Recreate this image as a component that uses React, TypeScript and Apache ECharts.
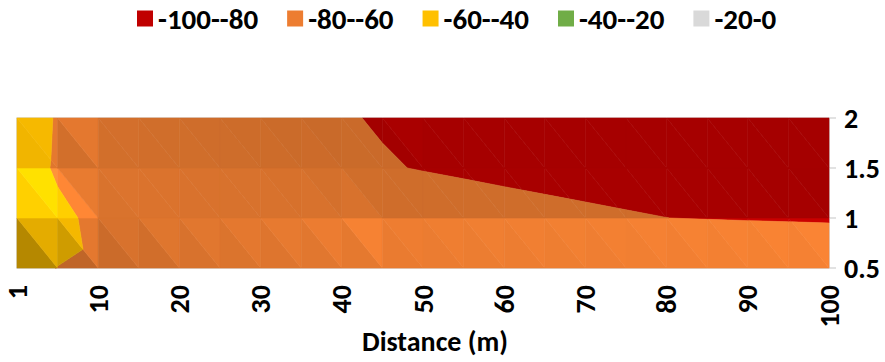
import React, { useEffect, useRef } from "react";
import * as echarts from "echarts";

// Distance categories (x) and height categories (y)
const distances = ["1", "5", "10", "15", "20", "25", "30", "35", "40", "45", "50", "55", "60", "65", "70", "75", "80", "85", "90", "95", "100"];
const heights = ["0.5", "1", "1.5", "2"];

// Surface values per height row
const row05 = [-57, -60.2, -63, -62.5, -62, -62, -62, -62, -62, -62, -62, -62, -62, -62, -62, -62, -62, -62, -62, -62, -62];
const row1 = [-41.5, -55, -65, -67, -69, -70.5, -71.8, -73, -74.5, -76.7, -77.19, -77.65, -78.12, -78.58, -79.04, -79.51, -79.97, -80.5, -81, -81.5, -82];
const row15 = [-47.2, -63, -70, -72.5, -74.5, -76, -77.2, -78.2, -79, -79.7, -80.19, -80.65, -81.12, -81.58, -82.04, -82.51, -82.97, -83.2, -83.4, -83.5, -83.5];
const row2 = [-45, -62, -72, -74.8, -76.6, -77.9, -78.8, -79.4, -79.7, -80.3, -82.2, -82.6, -83.1, -83.6, -84, -84.5, -85, -85.2, -85.4, -85.5, -85.5];

const bandLabels = ["-100--80", "-80--60", "-60--40", "-40--20", "-20-0"];
const bandLows = [-100, -80, -60, -40, -20];
const bandHighs = [-80, -60, -40, -20, 0];
const bandColors = ["#C00000", "#ED7D31", "#FFC000", "#70AD47", "#D9D9D9"];

const xTitle = "Distance (m)";

const rows = [row05, row1, row15, row2];

type P = [number, number, number];

function clip(poly: P[], level: number, keepAbove: boolean): P[] {
  const out: P[] = [];
  const n = poly.length;
  for (let k = 0; k < n; k++) {
    const a = poly[k];
    const b = poly[(k + 1) % n];
    const ina = keepAbove ? a[2] >= level : a[2] <= level;
    const inb = keepAbove ? b[2] >= level : b[2] <= level;
    if (ina) out.push(a);
    if (ina !== inb) {
      const t = (level - a[2]) / (b[2] - a[2]);
      out.push([a[0] + t * (b[0] - a[0]), a[1] + t * (b[1] - a[1]), level]);
    }
  }
  return out;
}

function triangleVerts(i: number, j: number, t: number): P[] {
  const TL: P = [i, j + 1, rows[j + 1][i]];
  const TR: P = [i + 1, j + 1, rows[j + 1][i + 1]];
  const BL: P = [i, j, rows[j][i]];
  const BR: P = [i + 1, j, rows[j][i + 1]];
  return t === 0 ? [TL, BL, BR] : [TL, TR, BR];
}

function shadeFactor(i: number, j: number, t: number): number {
  const TL = rows[j + 1][i];
  const TR = rows[j + 1][i + 1];
  const BL = rows[j][i];
  const BR = rows[j][i + 1];
  let A: number, B: number;
  if (t === 0) {
    A = BL - TL;
    B = BL - BR;
  } else {
    A = BR - TR;
    B = TL - TR;
  }
  const f = 0.84 + 0.01 * A + 0.008 * B + 0.001 * Math.max(0, A) * Math.max(0, B);
  return Math.max(0.5, Math.min(1.3, f));
}

function shade(hex: string, f: number): string {
  const r = parseInt(hex.slice(1, 3), 16);
  const g = parseInt(hex.slice(3, 5), 16);
  const b = parseInt(hex.slice(5, 7), 16);
  const c = (v: number) => Math.max(0, Math.min(255, Math.round(v * f)));
  return `rgb(${c(r)},${c(g)},${c(b)})`;
}

const triData: number[][] = [];
for (let j = 0; j < heights.length - 1; j++) {
  for (let i = 0; i < distances.length - 1; i++) {
    triData.push([i, j, 0]);
    triData.push([i, j, 1]);
  }
}

const FONT = "Carlito, Lato, 'Liberation Sans', sans-serif";
const GRAY = "#D9D9D9";

export default function App() {
  const ref = useRef<HTMLDivElement>(null);
  useEffect(() => {
    if (!ref.current) return;
    const chart = echarts.init(ref.current, undefined, { renderer: "svg" });
    const series = bandLabels.map((label, b) => ({
      type: "custom",
      name: label,
      coordinateSystem: "cartesian2d",
      data: triData,
      encode: { x: 0, y: 1 },
      itemStyle: { color: bandColors[b] },
      silent: true,
      clip: false,
      renderItem: (params: any, api: any) => {
        const i = api.value(0);
        const j = api.value(1);
        const t = api.value(2);
        let poly = triangleVerts(i, j, t);
        poly = clip(poly, bandLows[b], true);
        if (poly.length >= 3) poly = clip(poly, bandHighs[b], false);
        if (poly.length < 3) return null;
        // category axes are linear in the index: map fractional index positions through the axis scale
        const c00 = api.coord([0, 0]);
        const c10 = api.coord([1, 0]);
        const c01 = api.coord([0, 1]);
        const pts = poly.map((p) => [
          c00[0] + p[0] * (c10[0] - c00[0]) + p[1] * (c01[0] - c00[0]),
          c00[1] + p[0] * (c10[1] - c00[1]) + p[1] * (c01[1] - c00[1]),
        ]);
        const col = shade(bandColors[b], shadeFactor(i, j, t));
        return {
          type: "polygon",
          shape: { points: pts },
          style: { fill: col, stroke: col, lineWidth: 0.6 },
        };
      },
    }));
    chart.setOption({
      animation: false,
      legend: {
        data: bandLabels,
        top: -1,
        left: 132,
        icon: "rect",
        itemWidth: 16,
        itemHeight: 16,
        itemGap: 29,
        textStyle: { fontFamily: FONT, fontSize: 29, fontWeight: "bold", color: "#000" },
      },
      grid: {
        left: 17,
        right: 56,
        top: 118,
        bottom: 94,
        show: true,
        borderColor: GRAY,
        borderWidth: 1.5,
      },
      graphic: [
        {
          type: "text",
          x: 435,
          y: 341,
          style: {
            text: xTitle,
            fontFamily: FONT,
            fontSize: 28,
            fontWeight: "bold",
            fill: "#000",
            align: "center",
            verticalAlign: "middle",
          },
        },
      ],
      xAxis: {
        type: "category",
        data: distances,
        boundaryGap: false,
        axisLine: { lineStyle: { color: GRAY, width: 1.5 } },
        axisTick: { interval: 0, length: 7, lineStyle: { color: GRAY, width: 1.5 } },
        axisLabel: {
          interval: (idx: number) => idx % 2 === 0,
          rotate: 90,
          margin: 17,
          fontFamily: FONT,
          fontSize: 28,
          fontWeight: "bold",
          color: "#000",
        },
        splitLine: { show: false },
      },
      yAxis: {
        type: "category",
        data: heights,
        boundaryGap: false,
        position: "right",
        axisLine: { show: true, lineStyle: { color: GRAY, width: 1.5 } },
        axisTick: { show: true, interval: 0, length: 7, lineStyle: { color: GRAY, width: 1.5 } },
        axisLabel: { margin: 15, fontFamily: FONT, fontSize: 28, fontWeight: "bold", color: "#000" },
        splitLine: { show: false },
      },
      series,
    });
    return () => chart.dispose();
  }, []);
  return (
    <div
      ref={ref}
      style={{ position: "fixed", left: 0, top: 0, width: 885, height: 362, background: "#fff" }}
    />
  );
}
